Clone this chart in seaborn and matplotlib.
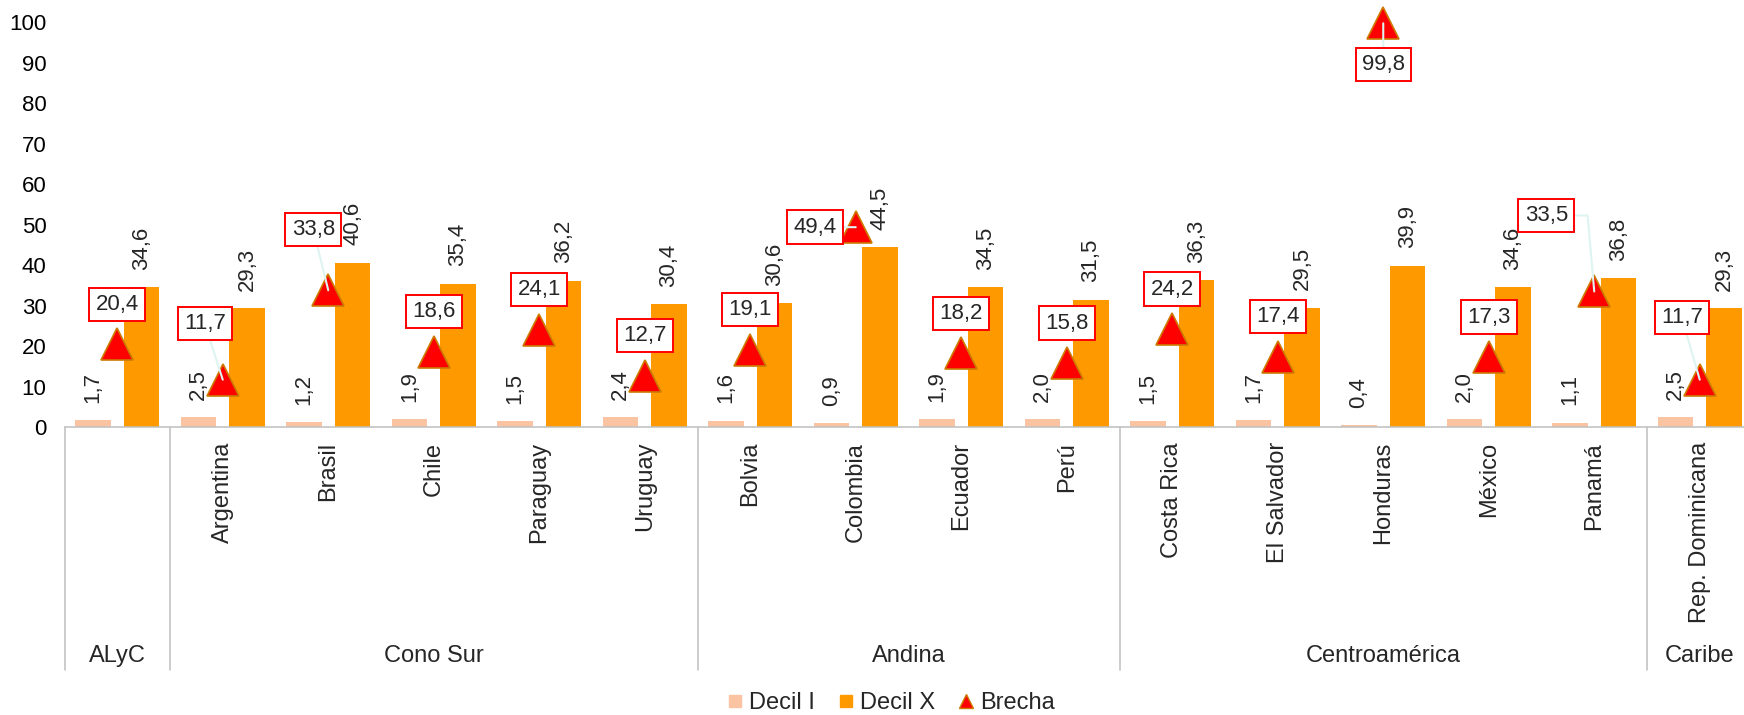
import matplotlib
matplotlib.use("Agg")
import matplotlib.pyplot as plt
import matplotlib.transforms as mtransforms
from matplotlib.lines import Line2D
import numpy as np
import pandas as pd
import seaborn as sns

# data
paises = ['ALyC', 'Argentina', 'Brasil', 'Chile', 'Paraguay', 'Uruguay',
          'Bolvia', 'Colombia', 'Ecuador', 'Perú',
          'Costa Rica', 'El Salvador', 'Honduras', 'México', 'Panamá',
          'Rep. Dominicana']
decil_1 = [1.7, 2.5, 1.2, 1.9, 1.5, 2.4, 1.6, 0.9, 1.9, 2.0, 1.5, 1.7, 0.4, 2.0, 1.1, 2.5]
decil_10 = [34.6, 29.3, 40.6, 35.4, 36.2, 30.4, 30.6, 44.5, 34.5, 31.5, 36.3, 29.5, 39.9, 34.6, 36.8, 29.3]
brecha = [20.4, 11.7, 33.8, 18.6, 24.1, 12.7, 19.1, 49.4, 18.2, 15.8, 24.2, 17.4, 99.8, 17.3, 33.5, 11.7]
grupos = ['ALyC', 'Cono Sur', 'Andina', 'Centroamérica', 'Caribe']
grupo_n = [1, 5, 4, 5, 1]

# label box offsets (pixels, x right / y up) where excel moved them
box_offsets = {1: (-18, 56), 2: (-15, 61), 7: (-41, 0), 12: (0, -41),
               14: (-48, 76), 15: (-18, 62)}

c_d1 = '#FAC4A2'
c_d10 = '#FF9900'
c_tri = '#FF0000'
c_tri_edge = '#CC7A00'
c_line = '#BFBFBF'
c_leader = '#DDF4F0'

sns.set_style('white')
plt.rcParams['font.family'] = ['Liberation Sans', 'DejaVu Sans']
plt.rcParams['font.size'] = 16

def fmt(v):
    return f'{v:.1f}'.replace('.', ',')

df = pd.DataFrame({'pais': paises * 2,
                   'valor': decil_1 + decil_10,
                   'serie': ['Decil I'] * len(paises) + ['Decil X'] * len(paises)})

fig = plt.figure(figsize=(17.44, 7.15), dpi=100)
ax = fig.add_axes([64.5 / 1744, 1 - 427 / 715, 1688 / 1744, 404.5 / 715])

sns.barplot(data=df, x='pais', y='valor', hue='serie', order=paises,
            palette=[c_d1, c_d10], width=0.92, gap=0.27, saturation=1,
            linewidth=0, legend=False, ax=ax)

x = np.arange(len(paises))
ax.set_xlim(-0.5, len(paises) - 0.5)
ax.set_ylim(0, 100)
ax.set_yticks(range(0, 101, 10))
ax.tick_params(axis='y', length=0, pad=13, labelsize=16, labelcolor='black')
ax.set_xticks([])
ax.set_xlabel('')
ax.set_ylabel('')
for s in ['top', 'right', 'left']:
    ax.spines[s].set_visible(False)
ax.spines['bottom'].set_color(c_line)
ax.spines['bottom'].set_linewidth(1.1)

# value labels over the bars
for i in x:
    for off, v in ((-0.23, decil_1[i]), (0.23, decil_10[i])):
        ax.annotate(fmt(v), (i + off, v), xytext=(0, 12.5), textcoords='offset points',
                    rotation=90, ha='center', va='bottom', fontsize=16)

# brecha triangles
ax.plot(x, brecha, ls='none', marker='^', markersize=23, color=c_tri,
        markeredgecolor=c_tri_edge, markeredgewidth=1.2, clip_on=False, zorder=4)

for i in x:
    dx, dy = box_offsets.get(i, (0, 40))
    arrow = None
    if i in box_offsets:
        arrow = dict(arrowstyle='-', color=c_leader, lw=1.5, shrinkA=0, shrinkB=0)
        if i == 14:
            arrow['connectionstyle'] = 'angle,angleA=0,angleB=95,rad=0'
            arrow['relpos'] = (1, 0.5)
    ax.annotate(fmt(brecha[i]), (i, brecha[i]), xytext=(dx, dy), textcoords='offset pixels',
                ha='center', va='center', fontsize=16, zorder=6, annotation_clip=False,
                bbox=dict(boxstyle='square,pad=0.28', fc='white', ec='#FF0000', lw=1.4),
                arrowprops=arrow)

# grouped category axis below the plot
trans = mtransforms.blended_transform_factory(ax.transData, ax.transAxes)
bottom = -0.6007
bounds = np.concatenate([[0], np.cumsum(grupo_n)]) - 0.5
for b in bounds:
    ax.plot([b, b], [0, bottom], transform=trans, color=c_line, lw=1.1, clip_on=False)
for i, p in enumerate(paises):
    if p in grupos:
        continue  # the regional total only shows its group label
    ax.text(i, -0.037, p, transform=trans, rotation=90, ha='center', va='top', fontsize=17)
for g, a, b in zip(grupos, bounds[:-1], bounds[1:]):
    ax.text((a + b) / 2, -0.566, g, transform=trans, ha='center', va='center', fontsize=17)

handles = [Line2D([], [], ls='none', marker='s', markersize=9, color=c_d1),
           Line2D([], [], ls='none', marker='s', markersize=9, color=c_d10),
           Line2D([], [], ls='none', marker='^', markersize=10, color=c_tri,
                  markeredgecolor=c_tri_edge, markeredgewidth=1)]
fig.legend(handles, ['Decil I', 'Decil X', 'Brecha'], loc='center',
           bbox_to_anchor=(0.511, 0.017), ncol=3, frameon=False, fontsize=17,
           handlelength=0.6, handletextpad=0.3, columnspacing=1.0, borderpad=0)

fig.savefig('out.png', dpi=100)
